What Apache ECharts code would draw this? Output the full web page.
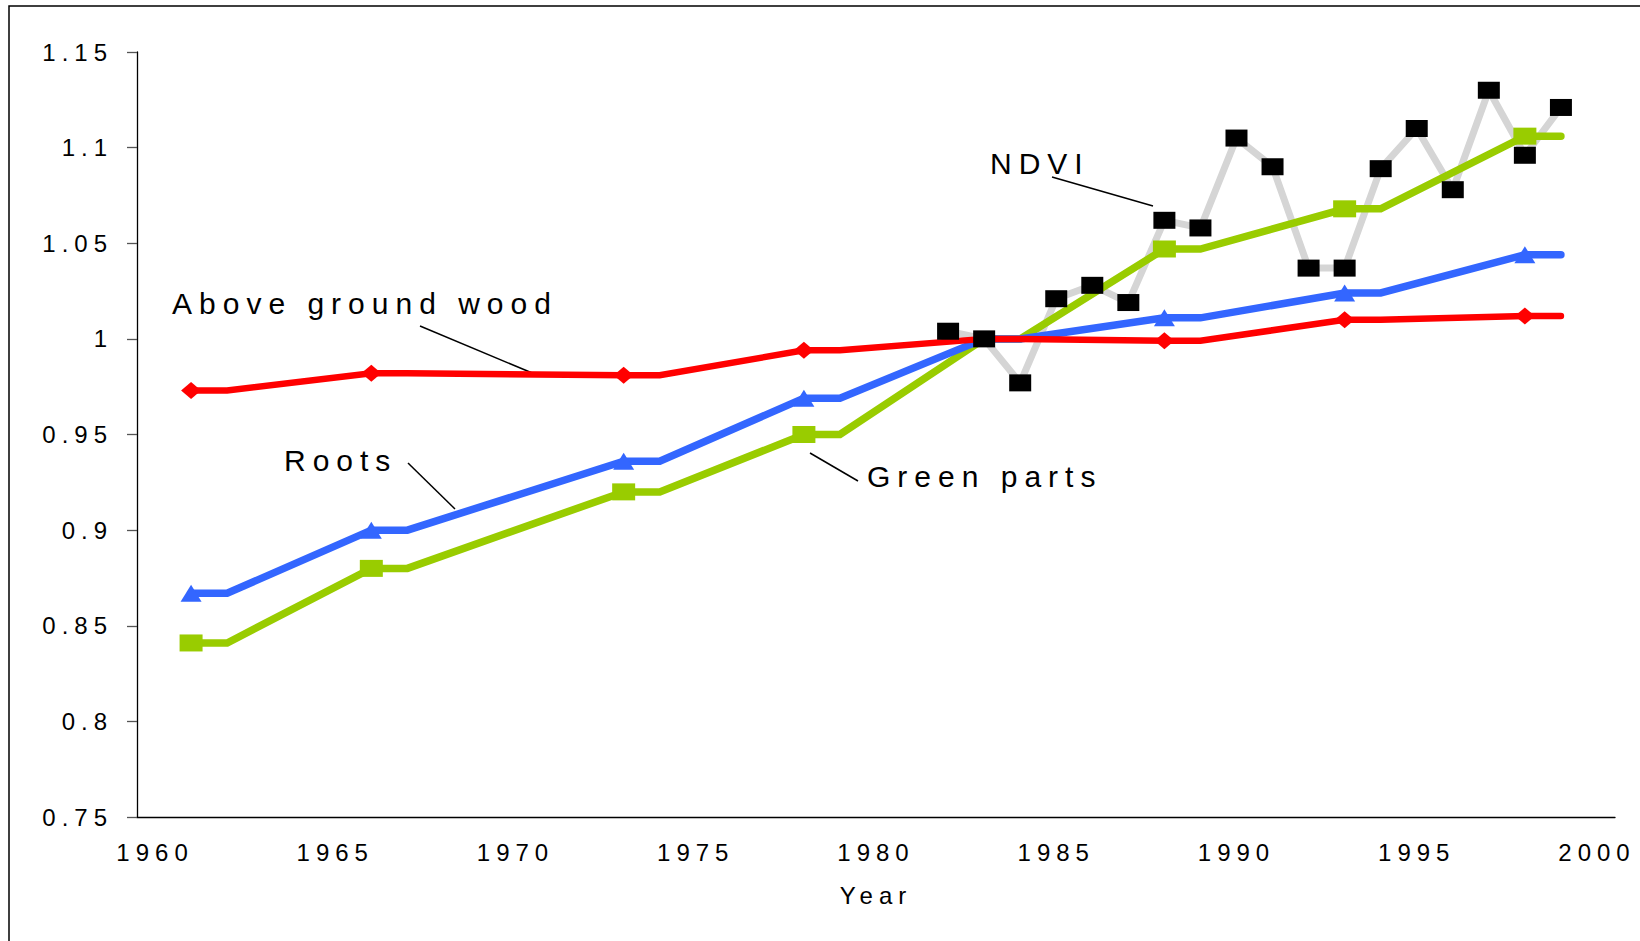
<!DOCTYPE html>
<html>
<head>
<meta charset="utf-8">
<script src="https://cdn.jsdelivr.net/npm/echarts@6/dist/echarts.min.js"></script>
<style>
  html, body { margin: 0; padding: 0; background: #fff; }
  #chart { width: 1640px; height: 941px; }
  /* Excel-style wide tracking on the text */
  #chart text[style*="24px"] { letter-spacing: 6px; }
  #chart text[style*="30px"] { letter-spacing: 7px; }
</style>
</head>
<body>
<div id="chart"></div>
<script>
// x categories 1960..2000
const years = []
for (let y = 1960; y <= 2000; y++) years.push(String(y))

const yTicks = [0.75, 0.8, 0.85, 0.9, 0.95, 1, 1.05, 1.1, 1.15]

// model series: value at first year of each pair, flat to the next year
const modelYears = [1961, 1962, 1966, 1967, 1973, 1974, 1978, 1979, 1983, 1984, 1988, 1989, 1993, 1994, 1998, 1999]
const markedYears = [1961, 1966, 1973, 1978, 1988, 1993, 1998]

const woodValues = [0.973, 0.973, 0.982, 0.982, 0.981, 0.981, 0.994, 0.994, 1, 1, 0.999, 0.999, 1.010, 1.010, 1.012, 1.012]
const rootsValues = [0.867, 0.867, 0.900, 0.900, 0.936, 0.936, 0.969, 0.969, 1, 1, 1.011, 1.011, 1.024, 1.024, 1.044, 1.044]
const greenValues = [0.841, 0.841, 0.880, 0.880, 0.920, 0.920, 0.950, 0.950, 1, 1, 1.047, 1.047, 1.068, 1.068, 1.106, 1.106]

// NDVI observations
const ndviYears = [1982, 1983, 1984, 1985, 1986, 1987, 1988, 1989, 1990, 1991, 1992, 1993, 1994, 1995, 1996, 1997, 1998, 1999]
const ndviValues = [1.004, 1.000, 0.977, 1.021, 1.028, 1.019, 1.062, 1.058, 1.105, 1.090, 1.037, 1.037, 1.089, 1.110, 1.078, 1.130, 1.096, 1.121]

const FONT = 'Liberation Sans'

function modelData(values, symbol) {
  return modelYears.map((yr, i) => ({
    value: [String(yr), values[i]],
    symbol: markedYears.includes(yr) ? symbol : 'none',
  }))
}

const chart = echarts.init(document.getElementById('chart'), null, { renderer: 'svg' })

const option = {
  animation: false,
  backgroundColor: '#fff',
  textStyle: { fontFamily: FONT, color: '#000' },
  grid: { left: 137, right: 25, top: 52, bottom: 124 },
  xAxis: {
    type: 'category',
    data: years,
    boundaryGap: true,
    name: 'Year',
    nameLocation: 'middle',
    nameGap: 66,
    nameTextStyle: { fontFamily: FONT, fontSize: 24, color: '#000' },
    axisLine: { lineStyle: { color: '#000', width: 1.3 } },
    axisTick: { interval: 0, length: 7, lineStyle: { color: '#000', width: 1.3 } },
    axisLabel: { interval: 4, margin: 23, fontFamily: FONT, fontSize: 24, color: '#000' },
    splitLine: { show: false },
  },
  yAxis: {
    type: 'value',
    min: yTicks[0],
    max: yTicks[yTicks.length - 1],
    interval: 0.05,
    axisLine: { show: true, lineStyle: { color: '#000', width: 1.3 } },
    axisTick: { show: true, length: 10, lineStyle: { color: '#555', width: 1.3 } },
    axisLabel: {
      margin: 24,
      fontFamily: FONT,
      fontSize: 24,
      color: '#000',
      formatter: (v) => String(+v.toFixed(2)),
    },
    splitLine: { show: false },
  },
  series: [
    // NDVI
    {
      name: 'NDVI',
      type: 'line',
      data: ndviYears.map((yr, i) => [String(yr), ndviValues[i]]),
      symbol: 'rect',
      symbolSize: [22, 17],
      showAllSymbol: true,
      lineStyle: { color: '#d5d5d5', width: 7 },
      itemStyle: { color: '#000' },
    },
    // Green parts
    {
      name: 'Green parts',
      type: 'line',
      data: modelData(greenValues, 'rect'),
      symbolSize: [23, 17],
      showAllSymbol: true,
      lineStyle: { color: '#99cc00', width: 7.5, cap: 'round', join: 'miter' },
      itemStyle: { color: '#99cc00' },
    },
    // Roots
    {
      name: 'Roots',
      type: 'line',
      data: modelData(rootsValues, 'triangle'),
      symbolSize: [21, 17],
      showAllSymbol: true,
      lineStyle: { color: '#3366ff', width: 7.5, cap: 'round', join: 'miter' },
      itemStyle: { color: '#3366ff' },
    },
    // Above ground wood
    {
      name: 'Above ground wood',
      type: 'line',
      data: modelData(woodValues, 'diamond'),
      symbolSize: [20, 17],
      showAllSymbol: true,
      lineStyle: { color: '#ff0000', width: 6.5, cap: 'round', join: 'miter' },
      itemStyle: { color: '#ff0000' },
    },
  ],
  graphic: [
    // outer frame
    {
      type: 'rect',
      shape: { x: 9, y: 6, width: 1700, height: 1000 },
      style: { fill: null, stroke: '#000', lineWidth: 1.5 },
      silent: true,
    },
    // labels with leader lines
    { type: 'text', x: 172, y: 303, style: { text: 'Above ground wood', font: '30px ' + FONT, fill: '#000', textAlign: 'left', textVerticalAlign: 'middle' } },
    { type: 'line', shape: { x1: 420, y1: 326, x2: 537, y2: 375 }, style: { stroke: '#000', lineWidth: 1.5 } },
    { type: 'text', x: 284, y: 460, style: { text: 'Roots', font: '30px ' + FONT, fill: '#000', textAlign: 'left', textVerticalAlign: 'middle' } },
    { type: 'line', shape: { x1: 408, y1: 463, x2: 455, y2: 509 }, style: { stroke: '#000', lineWidth: 1.5 } },
    { type: 'text', x: 867, y: 476, style: { text: 'Green parts', font: '30px ' + FONT, fill: '#000', textAlign: 'left', textVerticalAlign: 'middle' } },
    { type: 'line', shape: { x1: 810, y1: 453, x2: 858, y2: 481 }, style: { stroke: '#000', lineWidth: 1.5 } },
    { type: 'text', x: 990, y: 163, style: { text: 'NDVI', font: '30px ' + FONT, fill: '#000', textAlign: 'left', textVerticalAlign: 'middle' } },
    { type: 'line', shape: { x1: 1052, y1: 177, x2: 1153, y2: 206 }, style: { stroke: '#000', lineWidth: 1.5 } },
  ],
}

chart.setOption(option)
</script>
</body>
</html>
